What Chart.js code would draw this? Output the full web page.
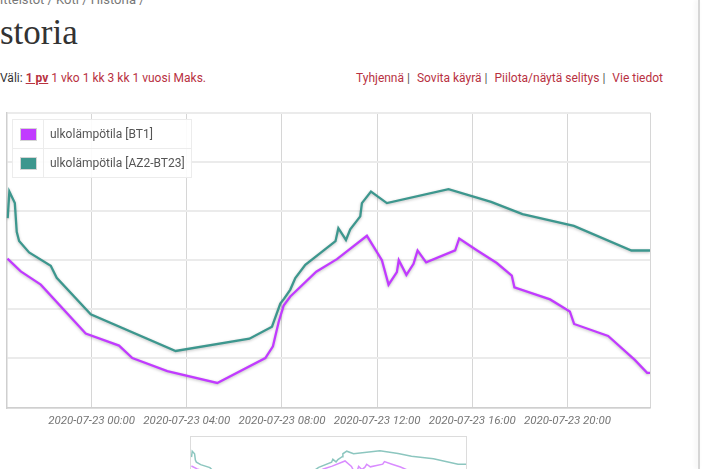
<!DOCTYPE html>
<html>
<head>
<meta charset="utf-8">
<script src="https://cdn.jsdelivr.net/npm/chart.js@4/dist/chart.umd.min.js"></script>
<style>
    body { margin: 0; width: 720px; height: 469px; overflow: hidden; background: #fff; font-family: Roboto, sans-serif; position: relative; }
    .crumbs { position: absolute; left: -14px; top: -8px; font-size: 13px; line-height: 15px; color: #777; white-space: nowrap; }
    h1 { position: absolute; left: -35px; top: 13px; margin: 0; font: normal 35px/40px "Liberation Serif", serif; color: #333; }
    .range { position: absolute; left: 0; top: 70px; font-size: 12px; line-height: 16px; color: #333; white-space: nowrap; }
    .range a, .tools a { color: #b8313f; text-decoration: none; }
    .range a.on { font-weight: bold; text-decoration: underline; }
    .tools { position: absolute; right: 57px; top: 70px; font-size: 12px; line-height: 16px; color: #555; white-space: nowrap; }
    .tools span { margin: 0 4px 0 3px; }
    #main { position: absolute; left: 0; top: 100px; }
    .legend { position: absolute; left: 12px; top: 119px; border: 1px solid #e8e8e8; background: rgba(255,255,255,0.9); border-collapse: collapse; font-size: 12px; color: #555; }
    .legend td { border: 1px solid #ececec; height: 28px; padding: 0; }
    .legend td.sw { width: 30px; text-align: center; }
    .legend td.sw div { display: inline-block; width: 15px; height: 11px; border: 1px solid #d4d4d4; vertical-align: middle; }
    .legend td.tx { padding: 0 6px 0 6px; }
    .overview { position: absolute; left: 190px; top: 436px; width: 275px; height: 62px; border: 1px solid #dcdcdc; }
    .edge { position: absolute; left: 698px; top: 0; width: 2px; height: 469px; background: #d6d6d6; box-shadow: -2px 0 4px rgba(0,0,0,0.08); }
</style>
</head>
<body>
<div class="crumbs">Laitteistot / Koti / Historia /</div>
<h1>Historia</h1>
<div class="range">Väli: <a class="on">1 pv</a> <a>1 vko</a> <a>1 kk</a> <a>3 kk</a> <a>1 vuosi</a> <a>Maks.</a></div>
<div class="tools"><a>Tyhjennä</a><span>|</span> <a>Sovita käyrä</a><span>|</span> <a>Piilota/näytä selitys</a><span>|</span> <a>Vie tiedot</a></div>
<canvas id="main" width="662" height="338"></canvas>
<table class="legend" id="legend"></table>
<div class="overview"><canvas id="overview" width="275" height="62"></canvas></div>
<div class="edge"></div>
<script>
// hours relative to 2020-07-23 00:00
const bt1Hours = [-3.54, -2.98, -2.14, -0.25, 1.15, 1.71, 3.18, 5.28, 7.30, 7.62, 7.86, 8.07, 8.35, 9.44, 10.31, 11.57, 12.20, 12.48, 12.83, 12.91, 13.23, 13.53, 13.70, 14.06, 15.28, 15.45, 16.19, 17.03, 17.66, 17.77, 19.27, 20.10, 20.28, 21.71, 22.83, 23.35, 23.47];
const bt1Values = [16.06, 15.54, 15.0, 13.01, 12.52, 12.01, 11.48, 11.0, 12.01, 12.49, 13.48, 14.15, 14.52, 15.53, 16.04, 16.99, 16.0, 15.0, 15.51, 16.0, 15.40, 15.85, 16.39, 15.91, 16.40, 16.88, 16.40, 15.88, 15.37, 14.89, 14.40, 13.91, 13.40, 12.91, 11.94, 11.41, 11.41];

const bt23Hours = [-3.53, -3.46, -3.23, -3.15, -3.05, -2.63, -1.72, -1.47, -0.04, 3.53, 6.63, 7.58, 7.93, 8.09, 8.35, 8.56, 8.98, 10.25, 10.37, 10.69, 10.87, 11.29, 11.36, 11.74, 12.41, 15.0, 16.79, 18.11, 20.27, 22.69, 23.47];
const bt23Values = [17.71, 18.79, 18.32, 17.15, 16.78, 16.31, 15.77, 15.28, 13.79, 12.30, 12.80, 13.29, 14.23, 14.43, 14.80, 15.27, 15.81, 16.77, 17.30, 16.82, 17.25, 17.78, 18.32, 18.79, 18.32, 18.89, 18.37, 17.87, 17.39, 16.39, 16.39];

const seriesLabels = ['ulkolämpötila [BT1]', 'ulkolämpötila [AZ2-BT23]'];
const seriesColors = ['#c13bff', '#3d978e'];
const overviewColors = ['#d98cff', '#8cc6bf'];

const tickHours = [0, 4, 8, 12, 16, 20];
const tickDay = '2020-07-23';
const xMin = -3.58, xMax = 23.47;
const yMin = 10, yMax = 22, yStep = 2;

const points = (hours, values) => hours.map((h, i) => ({ x: h, y: values[i] }));
const pad2 = n => String(n).padStart(2, '0');

const shadow = {
    id: 'shadow',
    beforeDatasetDraw(chart) {
        const ctx = chart.ctx;
        ctx.save();
        ctx.shadowColor = 'rgba(0,0,0,0.25)';
        ctx.shadowBlur = 3;
        ctx.shadowOffsetY = 1;
    },
    afterDatasetDraw(chart) {
        chart.ctx.restore();
    }
};

new Chart(document.getElementById('main'), {
    type: 'line',
    data: {
        datasets: [
            { label: seriesLabels[0], data: points(bt1Hours, bt1Values), borderColor: seriesColors[0] },
            { label: seriesLabels[1], data: points(bt23Hours, bt23Values), borderColor: seriesColors[1] }
        ]
    },
    options: {
        responsive: false,
        animation: false,
        devicePixelRatio: 1,
        layout: { padding: { left: 6, top: 12.7, right: 12, bottom: 3.7 } },
        elements: { line: { borderWidth: 2.3, tension: 0 }, point: { radius: 0 } },
        plugins: { legend: { display: false }, tooltip: { enabled: false } },
        scales: {
            x: {
                type: 'linear',
                min: xMin,
                max: xMax,
                afterBuildTicks: scale => {
                    scale.ticks = [xMin, ...tickHours, xMax].map(v => ({ value: v }));
                },
                ticks: {
                    padding: 6.5,
                    maxRotation: 0,
                    autoSkip: false,
                    color: '#777',
                    font: { family: 'Roboto', size: 11.5, style: 'italic' },
                    callback: v => tickHours.includes(v) ? `${tickDay} ${pad2(v)}:00` : ''
                },
                grid: { color: '#d6d6d6', lineWidth: 1, drawTicks: false },
                border: { color: '#cfcfcf', width: 1.5 }
            },
            y: {
                min: yMin,
                max: yMax,
                ticks: { stepSize: yStep, display: false },
                grid: { color: '#ebebeb', lineWidth: 2, drawTicks: false },
                border: { color: '#cfcfcf', width: 1.5 }
            }
        }
    },
    plugins: [shadow]
});

new Chart(document.getElementById('overview'), {
    type: 'line',
    data: {
        datasets: [
            { data: points(bt1Hours, bt1Values), borderColor: overviewColors[0] },
            { data: points(bt23Hours, bt23Values), borderColor: overviewColors[1] }
        ]
    },
    options: {
        responsive: false,
        animation: false,
        devicePixelRatio: 1,
        elements: { line: { borderWidth: 1.5, tension: 0 }, point: { radius: 0 } },
        plugins: { legend: { display: false }, tooltip: { enabled: false } },
        scales: {
            x: { type: 'linear', min: xMin, max: xMax, display: false },
            y: { min: yMin, max: 21.4, display: false }
        }
    }
});

document.getElementById('legend').innerHTML = seriesLabels.map((label, i) => `
    <tr><td class="sw"><div style="background:${seriesColors[i]}"></div></td><td class="tx">${label}</td></tr>
`).join('');
</script>
</body>
</html>
